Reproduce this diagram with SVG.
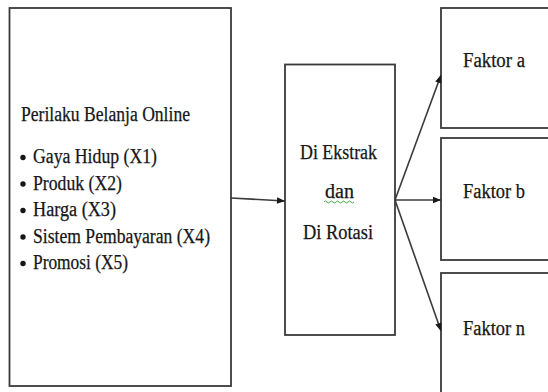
<svg xmlns="http://www.w3.org/2000/svg" width="548" height="392" viewBox="0 0 548 392">
<style>
.box{fill:#fff;stroke:#3a3a3a;stroke-width:1.8}
.t{font-family:"Liberation Serif","Times New Roman",serif;font-size:20px;fill:#161616;stroke:#161616;stroke-width:0.25}
.c{text-anchor:middle}
.ln{stroke:#3a3a3a;stroke-width:1.6;fill:none}
.b{fill:#161616}
</style>
<defs>
<marker id="ah" viewBox="0 0 10 10" refX="10" refY="5" markerWidth="9" markerHeight="8" markerUnits="userSpaceOnUse" orient="auto">
<path d="M0,1 L10,5 L0,9 Z" fill="#1a1a1a"/>
</marker>
</defs>
<rect width="548" height="392" fill="#fff"/>
<g id="node-input">
<rect class="box" x="9.5" y="8" width="221.5" height="378"/>
<text class="t" x="21" y="121" textLength="169" lengthAdjust="spacingAndGlyphs">Perilaku Belanja Online</text>
<circle class="b" cx="23" cy="157.5" r="2.7"/>
<text class="t" x="33" y="163" textLength="124" lengthAdjust="spacingAndGlyphs">Gaya Hidup (X1)</text>
<circle class="b" cx="23" cy="184" r="2.7"/>
<text class="t" x="33" y="189.5" textLength="89" lengthAdjust="spacingAndGlyphs">Produk (X2)</text>
<circle class="b" cx="23" cy="210.5" r="2.7"/>
<text class="t" x="33" y="216" textLength="83" lengthAdjust="spacingAndGlyphs">Harga (X3)</text>
<circle class="b" cx="23" cy="237" r="2.7"/>
<text class="t" x="33" y="242.5" textLength="177" lengthAdjust="spacingAndGlyphs">Sistem Pembayaran (X4)</text>
<circle class="b" cx="23" cy="263.5" r="2.7"/>
<text class="t" x="33" y="269" textLength="95" lengthAdjust="spacingAndGlyphs">Promosi (X5)</text>
</g>
<g id="node-process">
<rect class="box" x="285" y="64.5" width="110" height="270.5"/>
<text class="t" x="300" y="159" textLength="77" lengthAdjust="spacingAndGlyphs">Di Ekstrak</text>
<text class="t" x="325" y="198" textLength="29" lengthAdjust="spacingAndGlyphs">dan</text>
<path d="M324,202 q1.5,-2 3,0 t3,0 t3,0 t3,0 t3,0 t3,0 t3,0 t3,0 t3,0 t3,0" stroke="#4a4" stroke-width="1" fill="none"/>
<text class="t" x="303" y="239" textLength="70" lengthAdjust="spacingAndGlyphs">Di Rotasi</text>
</g>
<g id="node-faktor-a">
<rect class="box" x="441" y="8" width="112" height="120"/>
<text class="t" x="463" y="67" textLength="62" lengthAdjust="spacingAndGlyphs">Faktor a</text>
</g>
<g id="node-faktor-b">
<rect class="box" x="441" y="138" width="112" height="122"/>
<text class="t" x="463" y="198" textLength="62" lengthAdjust="spacingAndGlyphs">Faktor b</text>
</g>
<g id="node-faktor-n">
<rect class="box" x="441" y="273" width="112" height="130"/>
<text class="t" x="463" y="335" textLength="62" lengthAdjust="spacingAndGlyphs">Faktor n</text>
</g>
<g id="connectors">
<line class="ln" x1="231" y1="198" x2="285" y2="201" marker-end="url(#ah)"/>
<line class="ln" x1="395" y1="200" x2="441" y2="75" marker-end="url(#ah)"/>
<line class="ln" x1="395" y1="200" x2="441" y2="200" marker-end="url(#ah)"/>
<line class="ln" x1="395" y1="200" x2="441" y2="331" marker-end="url(#ah)"/>
</g>
</svg>
